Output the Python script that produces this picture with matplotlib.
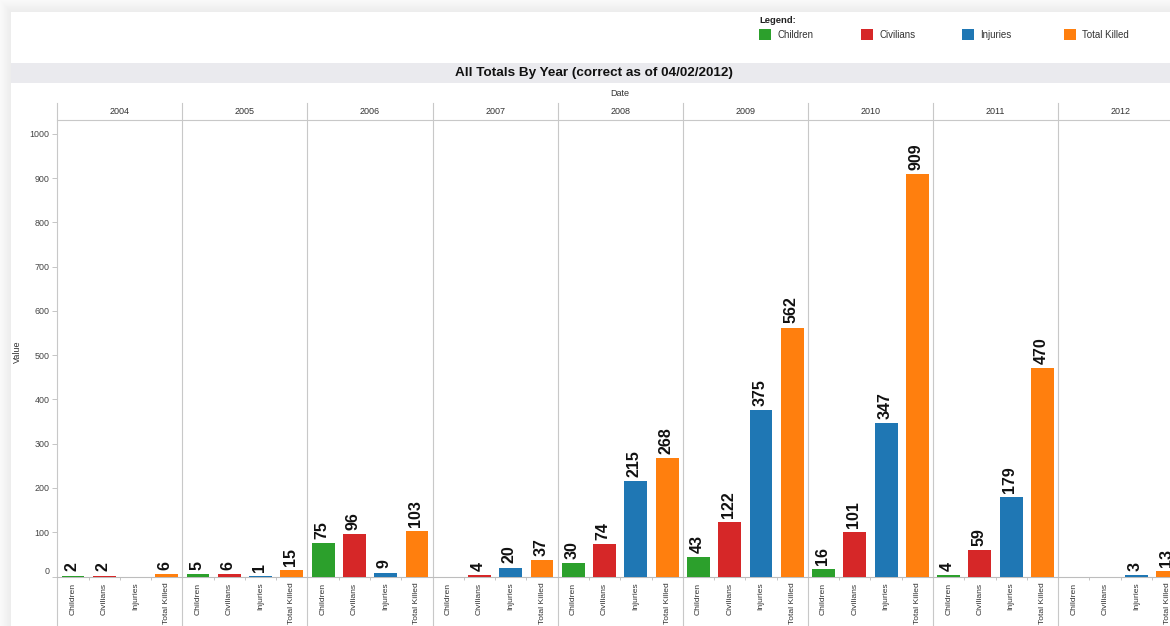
import numpy as np
import matplotlib.pyplot as plt
import matplotlib.transforms as mtransforms
from matplotlib.patches import Rectangle

plt.rcParams['font.family'] = ['Liberation Sans', 'DejaVu Sans']

# yearly totals per measure (nan = no record for that year)
years = ['2004', '2005', '2006', '2007', '2008', '2009', '2010', '2011', '2012']
measures = ['Children', 'Civilians', 'Injuries', 'Total Killed']
children = [2, 5, 75, np.nan, 30, 43, 16, 4, np.nan]
civilians = [2, 6, 96, 4, 74, 122, 101, 59, np.nan]
injuries = [np.nan, 1, 9, 20, 215, 375, 347, 179, 3]
total_killed = [6, 15, 103, 37, 268, 562, 909, 470, 13]
series = [children, civilians, injuries, total_killed]
colors = ['#2ca02c', '#d62728', '#1f77b4', '#ff7f0e']
y_ticks = list(range(0, 1001, 100))

W, H = 1170, 626
fig = plt.figure(figsize=(W / 100, H / 100), dpi=100, facecolor='white')


def fx(px):
    return px / W


def fy(py):
    return 1 - py / H


# light shadow round the dashboard sheet
xx, yy = np.meshgrid(np.arange(W), np.arange(H))
dx = np.clip((11 - xx) / 11, 0, 1)
dy = np.clip((12 - yy) / 12, 0, 1)
outside = (xx < 11) | (yy < 12)
level = np.where(outside, 0.925 + 0.055 * np.maximum(dx, dy), 1.0)
fig.figimage(np.dstack([level] * 3), xo=0, yo=0, origin='upper', zorder=-10)

# title band
fig.add_artist(Rectangle((fx(11), fy(83)), 1 - fx(11), (83 - 63) / H,
                         transform=fig.transFigure, facecolor='#eaeaee',
                         edgecolor='none', zorder=1))
fig.text(fx(594), fy(73), 'All Totals By Year (correct as of 04/02/2012)',
         ha='center', va='center', fontsize=9.7, fontweight='bold', color='#111111')

# legend
fig.text(fx(759), fy(20.5), 'Legend:', ha='left', va='center',
         fontsize=6.8, fontweight='bold', color='#222222')
for name, col, sx in zip(measures, colors, [759, 861, 962, 1064]):
    fig.add_artist(Rectangle((fx(sx), fy(39.5)), 11.5 / W, 10.5 / H,
                             transform=fig.transFigure, facecolor=col,
                             edgecolor='none', zorder=2))
    fig.text(fx(sx + 18), fy(34.5), name, ha='left', va='center',
             fontsize=7, color='#333333')

# plot area: nine year panels of four slots each
x0, x1, y_top, y_zero = 57.3, 57.3 + 9 * 125.1, 120, 576.5
ax = fig.add_axes([fx(x0), fy(y_zero), (x1 - x0) / W, (y_zero - y_top) / H])
ax.set_facecolor('none')
n_slots = len(years) * len(measures)
ax.set_xlim(0, n_slots)
ax.set_ylim(0, 1031)

for j, (vals, col) in enumerate(zip(series, colors)):
    for i, v in enumerate(vals):
        if np.isnan(v):
            continue
        xc = i * len(measures) + j + 0.5
        ax.bar(xc, v, width=0.73, color=col, zorder=3)
        ax.annotate(f'{v:g}', (xc, v), xytext=(-1, 3), textcoords='offset points',
                    rotation=90, ha='center', va='bottom', fontsize=11.5,
                    fontweight='bold', color='#111111')

centers = [i * len(measures) + j + 0.5 for i in range(len(years)) for j in range(len(measures))]
ax.set_xticks(centers, measures * len(years), rotation=90)
ax.set_xticks(np.arange(1, n_slots), minor=True)
ax.tick_params(axis='x', which='major', length=0, pad=4.5, labelsize=6.1, labelcolor='#333333')
ax.tick_params(axis='x', which='minor', length=2.5, width=0.6, color='#bbbbbb')
for lab in ax.get_xticklabels():
    lab.set_va('top')

ax.set_yticks(y_ticks)
ax.tick_params(axis='y', length=3.5, width=0.6, color='#bbbbbb', pad=2,
               labelsize=6.4, labelcolor='#444444')
# the zero label sits a little above the baseline
zero_lab = ax.get_yticklabels()[0]
zero_lab.set_transform(zero_lab.get_transform() +
                       mtransforms.ScaledTranslation(0, 6 / 100, fig.dpi_scale_trans))

for side in ['left', 'right']:
    ax.spines[side].set_visible(False)
ax.spines['top'].set_color('#c8c8c8')
ax.spines['top'].set_linewidth(0.8)
ax.spines['bottom'].set_color('#bdbdbd')
ax.spines['bottom'].set_linewidth(0.8)

# panel separators run from the year header down through the labels
trans = mtransforms.blended_transform_factory(ax.transData, ax.transAxes)
y_lo = (y_zero - H) / (y_zero - y_top)
y_hi = (y_zero - 103) / (y_zero - y_top)
for k in range(len(years) + 1):
    ax.plot([k * len(measures)] * 2, [y_lo, y_hi], transform=trans,
            color='#c8c8c8', lw=0.8, clip_on=False, zorder=2)

# year header and field title
y_year = (y_zero - 112) / (y_zero - y_top)
for i, yr in enumerate(years):
    ax.text(i * len(measures) + len(measures) / 2, y_year, yr, transform=trans,
            ha='center', va='center', fontsize=6.5, color='#333333')
ax.text(n_slots / 2, (y_zero - 94) / (y_zero - y_top), 'Date', transform=trans,
        ha='center', va='center', fontsize=6.5, color='#333333')

fig.text(fx(17), fy(352), 'Value', rotation=90, ha='center', va='center',
         fontsize=6.5, color='#333333')

fig.savefig('out.png', dpi=100, facecolor=fig.get_facecolor())
